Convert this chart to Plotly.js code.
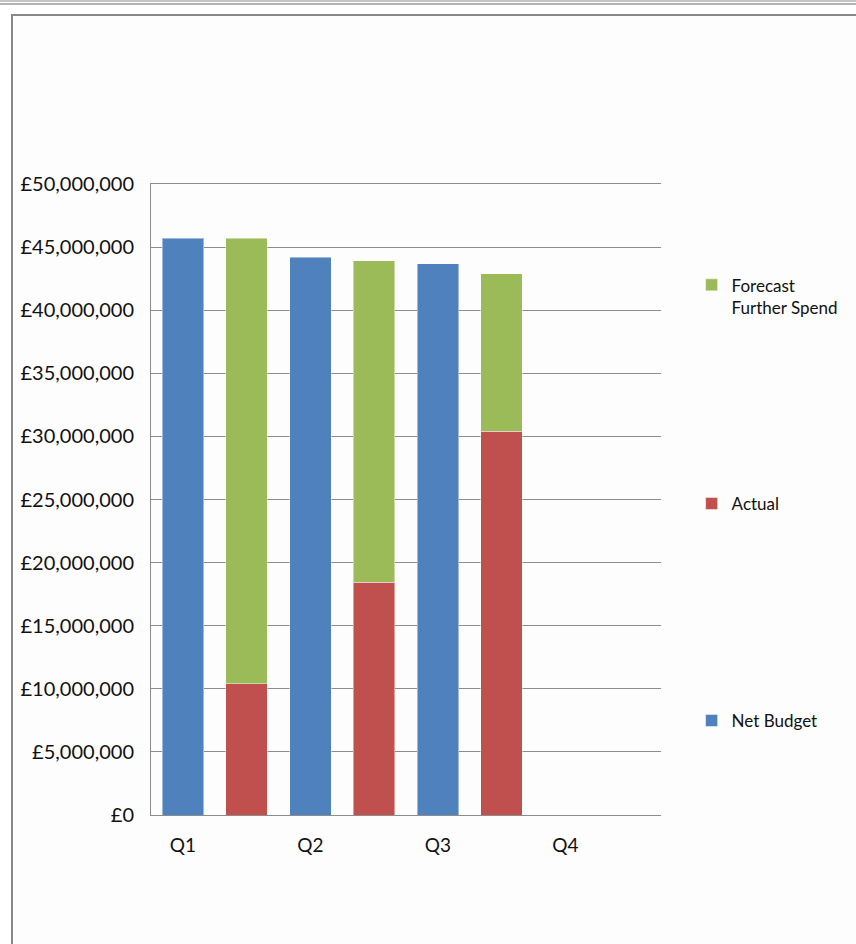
<!DOCTYPE html>
<html>
<head>
<meta charset="utf-8">
<script src="https://cdn.plot.ly/plotly-3.0.1.min.js"></script>
<style>
  html, body { margin: 0; padding: 0; background: #ffffff; width: 856px; height: 944px; overflow: hidden; }
  #line1 { position: absolute; left: 0; top: 0; width: 856px; height: 2px; background: #c4c4c4; }
  #line2 { position: absolute; left: 0; top: 3px; width: 856px; height: 2px; background: #b4b4b4; }
  #frame { position: absolute; left: 11px; top: 14px; width: 850px; height: 940px; border-left: 2px solid #888888; border-top: 2px solid #888888; background: #fdfdfd; }
  #chart { position: absolute; left: 0; top: 0; width: 856px; height: 944px; }
</style>
</head>
<body>
<div id="line1"></div>
<div id="line2"></div>
<div id="frame"></div>
<div id="chart"></div>
<script>
// Quarter labels
const categories = ['Q1', 'Q2', 'Q3', 'Q4'];
// Net Budget (left column in each quarter)
const netBudget = [45700000, 44200000, 43700000, null];
// Actual spend (bottom of the right column)
const actual = [10400000, 18450000, 30400000, null];
// Forecast further spend (stacked on top of Actual)
const forecastFurther = [35300000, 25450000, 12500000, null];

const seriesNames = ['Net Budget', 'Actual', 'Forecast<br>Further Spend'];
const seriesColors = ['#4F81BD', '#C0504D', '#9BBB59'];

// slot positions: each quarter uses two slots (budget, actual/forecast)
const budgetX = categories.map((c, i) => 2 * i);
const spendX = categories.map((c, i) => 2 * i + 1);
const tickVals = categories.map((c, i) => 2 * i);

const fam = 'Lato, "Open Sans", sans-serif';
const yFont = { family: fam, size: 20, color: '#111111' };
const xFont = { family: fam, size: 19, color: '#111111' };
const outline = { color: 'rgba(255,255,255,0.45)', width: 1 };

const traces = [
  { type: 'bar', name: seriesNames[0], x: budgetX, y: netBudget,
    marker: { color: seriesColors[0], line: outline }, legend: 'legend3', hoverinfo: 'y+name' },
  { type: 'bar', name: seriesNames[1], x: spendX, y: actual,
    marker: { color: seriesColors[1], line: outline }, legend: 'legend2', hoverinfo: 'y+name' },
  { type: 'bar', name: seriesNames[2], x: spendX, y: forecastFurther,
    marker: { color: seriesColors[2], line: outline }, legend: 'legend', hoverinfo: 'y+name' }
];

const legendBase = { xanchor: 'left', yanchor: 'middle', font: { family: fam, size: 17, color: '#111111' },
  bgcolor: 'rgba(0,0,0,0)', borderwidth: 0, valign: 'top', itemclick: false, itemdoubleclick: false };

const layout = {
  width: 856, height: 944,
  margin: { l: 151, r: 195, t: 184, b: 129, pad: 0 },
  paper_bgcolor: 'rgba(0,0,0,0)',
  plot_bgcolor: 'rgba(0,0,0,0)',
  barmode: 'stack',
  bargap: 0.35,
  showlegend: true,
  font: yFont,
  xaxis: {
    range: [-0.5, 7.5],
    tickmode: 'array', tickvals: tickVals, ticktext: categories,
    showgrid: false, zeroline: false,
    showline: true, mirror: true, linecolor: '#8c8c8c', linewidth: 1,
    ticks: '', ticklabelstandoff: 13,
    tickfont: xFont, fixedrange: true
  },
  yaxis: {
    range: [0, 50000000], dtick: 5000000, tick0: 0,
    tickprefix: '£', tickformat: ',.0f',
    showgrid: true, gridcolor: '#8c8c8c', gridwidth: 1,
    zeroline: false,
    showline: true, linecolor: '#8c8c8c', linewidth: 1,
    ticks: '', ticklabelstandoff: 12,
    tickfont: yFont, fixedrange: true
  },
  legend: Object.assign({}, legendBase, { x: 1.06, y: 0.822 }),
  legend2: Object.assign({}, legendBase, { x: 1.06, y: 0.4929 }),
  legend3: Object.assign({}, legendBase, { x: 1.06, y: 0.149 })
};

Plotly.newPlot('chart', traces, layout, { staticPlot: true, displayModeBar: false });
</script>
</body>
</html>
